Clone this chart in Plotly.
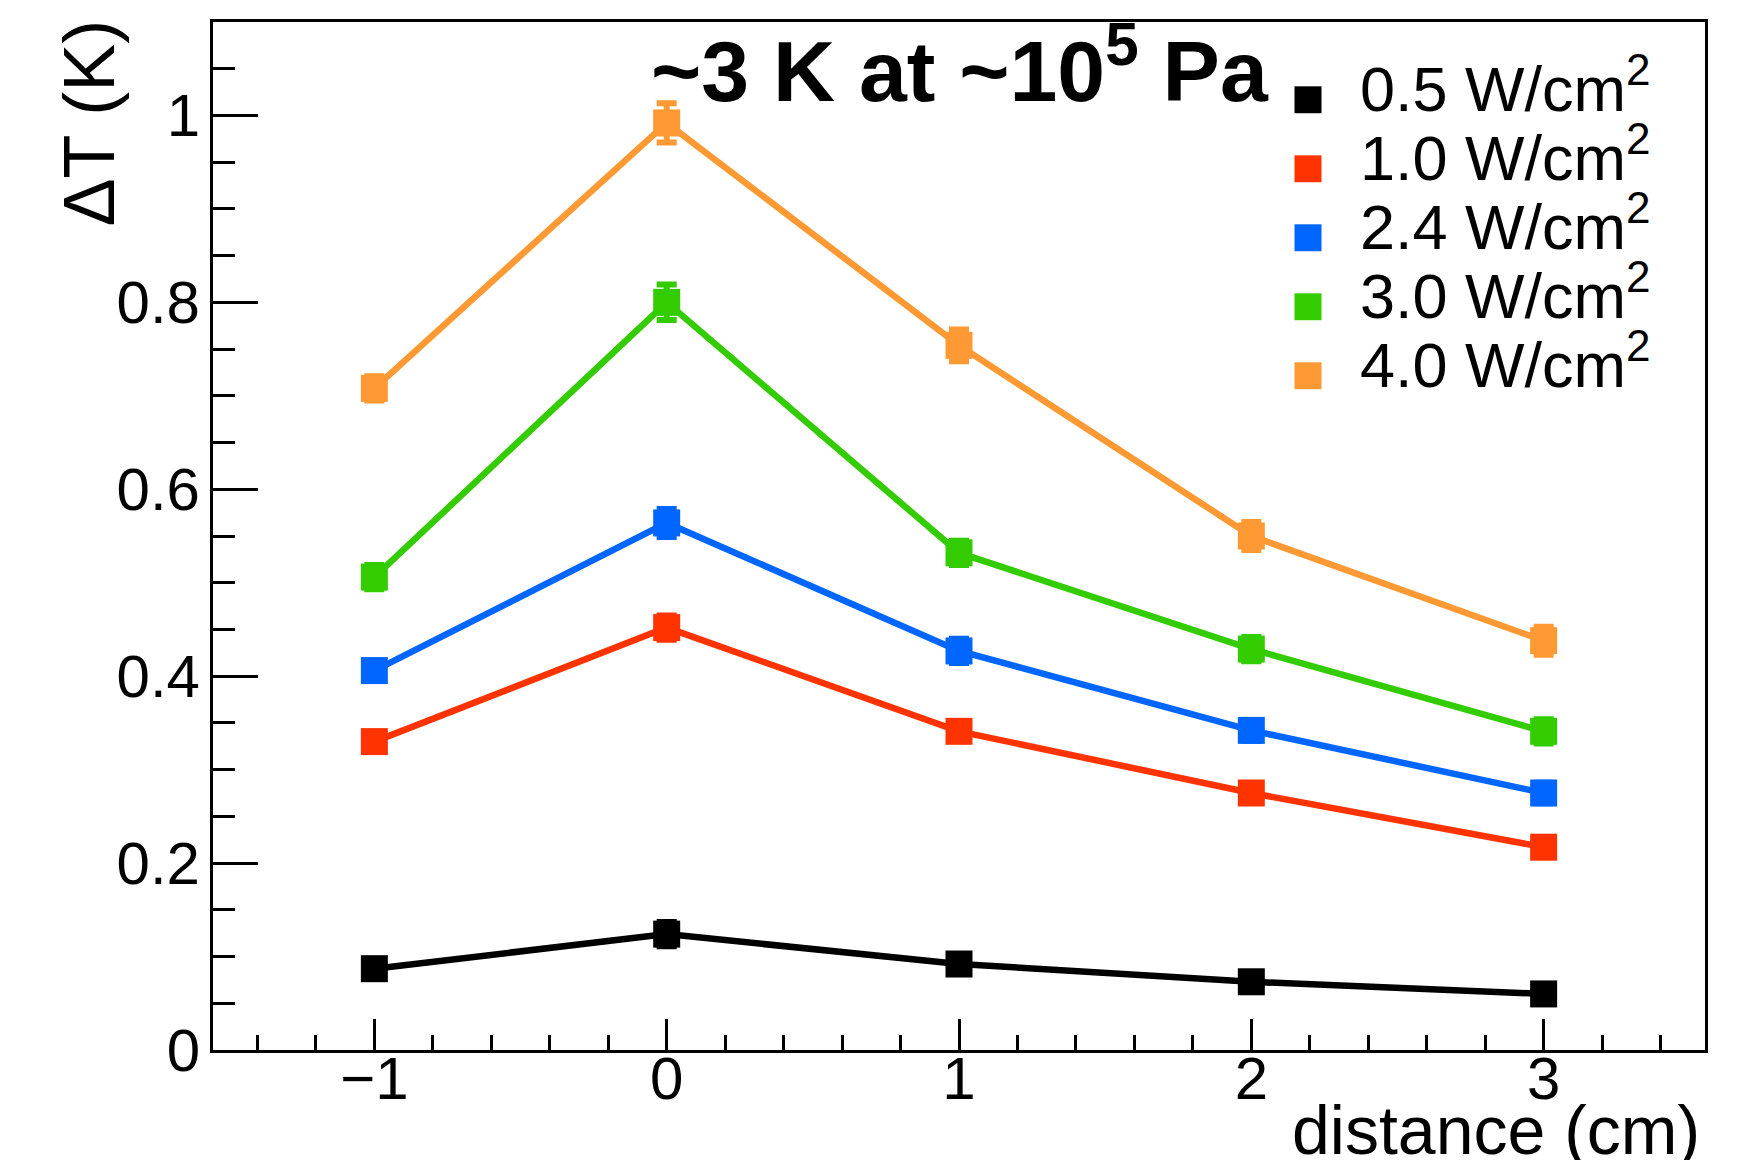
import plotly.graph_objects as go

# ---------------- data ----------------
distance = [-1, 0, 1, 2, 3]

series_labels = ["0.5 W/cm<sup>2</sup>", "1.0 W/cm<sup>2</sup>", "2.4 W/cm<sup>2</sup>",
                 "3.0 W/cm<sup>2</sup>", "4.0 W/cm<sup>2</sup>"]
series_colors = ["#000000", "#ff3300", "#0066ff", "#33cc00", "#ff9933"]

dT_0p5 = [0.087, 0.124, 0.092, 0.073, 0.060]
dT_1p0 = [0.330, 0.452, 0.341, 0.275, 0.217]
dT_2p4 = [0.406, 0.564, 0.427, 0.342, 0.275]
dT_3p0 = [0.506, 0.800, 0.532, 0.429, 0.341]
dT_4p0 = [0.708, 0.992, 0.754, 0.550, 0.438]

err_0p5 = [0.006, 0.013, 0.006, 0.006, 0.006]
err_1p0 = [0.006, 0.013, 0.010, 0.010, 0.010]
err_2p4 = [0.010, 0.015, 0.013, 0.011, 0.011]
err_3p0 = [0.013, 0.019, 0.013, 0.013, 0.013]
err_4p0 = [0.013, 0.021, 0.017, 0.015, 0.015]

series_values = [dT_0p5, dT_1p0, dT_2p4, dT_3p0, dT_4p0]
series_errors = [err_0p5, err_1p0, err_2p4, err_3p0, err_4p0]

title_text = "~3 K at ~10<sup>5</sup> Pa"
x_title = "distance (cm)"
y_title = "ΔT (K)"

# ---------------- geometry (page pixels; body has an 8px margin) ----------------
OFF = 8
W, H = 1757 - 2 * OFF, 1168 - 2 * OFF
ML = 213 - OFF
MT = 19 - OFF
MR = W - (1705 - OFF)
MB = H - (1050 - OFF)
PW, PH = W - ML - MR, H - MT - MB
FONT = "Liberation Sans, Arial, Helvetica, sans-serif"


def px_x(px):
    return (px - OFF - ML) / PW


def px_y(py):
    return (H - MB - (py - OFF)) / PH


fig = go.Figure()
for vals, errs, col in zip(series_values, series_errors, series_colors):
    fig.add_trace(go.Scatter(
        x=distance, y=vals, mode="lines+markers",
        line=dict(color=col, width=6.5),
        marker=dict(symbol="square", size=27, color=col, line=dict(width=0)),
        error_y=dict(type="data", array=errs, visible=True, color=col,
                     thickness=6, width=10),
        showlegend=False,
    ))

annotations = []
shapes = []

# title
annotations.append(dict(
    text="<b>" + title_text + "</b>", xref="paper", yref="paper",
    x=px_x(649), y=px_y(62), xanchor="left", yanchor="middle", showarrow=False,
    font=dict(family=FONT, size=86, color="black"),
))

# legend (manual)
leg_text_x = 1358
leg_mark_x = 1308
leg_y0 = 81.5
leg_dy = 69.2
msz = 27
for i, (lab, col) in enumerate(zip(series_labels, series_colors)):
    cy = leg_y0 + i * leg_dy
    annotations.append(dict(
        text=lab, xref="paper", yref="paper", x=px_x(leg_text_x), y=px_y(cy),
        xanchor="left", yanchor="middle", showarrow=False,
        font=dict(family=FONT, size=63, color="black"),
    ))
    my = cy + 15.5
    shapes.append(dict(
        type="rect", xref="paper", yref="paper",
        x0=px_x(leg_mark_x - msz / 2), x1=px_x(leg_mark_x + msz / 2),
        y0=px_y(my + msz / 2), y1=px_y(my - msz / 2),
        fillcolor=col, line=dict(width=0),
    ))

# axis titles
annotations.append(dict(
    text=x_title, xref="paper", yref="paper", x=px_x(1702), y=px_y(1130),
    xanchor="right", yanchor="middle", showarrow=False,
    font=dict(family=FONT, size=68, color="black"),
))
annotations.append(dict(
    text=y_title, xref="paper", yref="paper", x=px_x(89), y=px_y(15),
    xanchor="center", yanchor="top", textangle=-90, showarrow=False,
    font=dict(family=FONT, size=72, color="black"),
))

fig.update_layout(
    width=W, height=H,
    margin=dict(l=ML, r=MR, t=MT, b=MB, pad=0),
    paper_bgcolor="white", plot_bgcolor="white",
    font=dict(family=FONT, color="black"),
    annotations=annotations, shapes=shapes,
    xaxis=dict(
        range=[-1.552, 3.552], showgrid=False, zeroline=False,
        showline=True, linecolor="black", linewidth=3, mirror=True,
        ticks="inside", ticklen=31, tickwidth=3, tickcolor="black",
        tick0=0, dtick=1, tickfont=dict(family=FONT, size=60, color="black"),
        ticklabelstandoff=-26,
        minor=dict(ticks="inside", tick0=0, dtick=0.2, ticklen=15,
                   tickwidth=2.5, tickcolor="black", showgrid=False),
    ),
    yaxis=dict(
        range=[0, 1.1], showgrid=False, zeroline=False,
        showline=True, linecolor="black", linewidth=3, mirror=True,
        ticks="inside", ticklen=45, tickwidth=3, tickcolor="black",
        tick0=0, dtick=0.2, tickfont=dict(family=FONT, size=60, color="black"),
        ticklabelstandoff=-2,
        minor=dict(ticks="inside", tick0=0, dtick=0.05, ticklen=22,
                   tickwidth=2.5, tickcolor="black", showgrid=False),
    ),
)

fig.write_html("out.html")
